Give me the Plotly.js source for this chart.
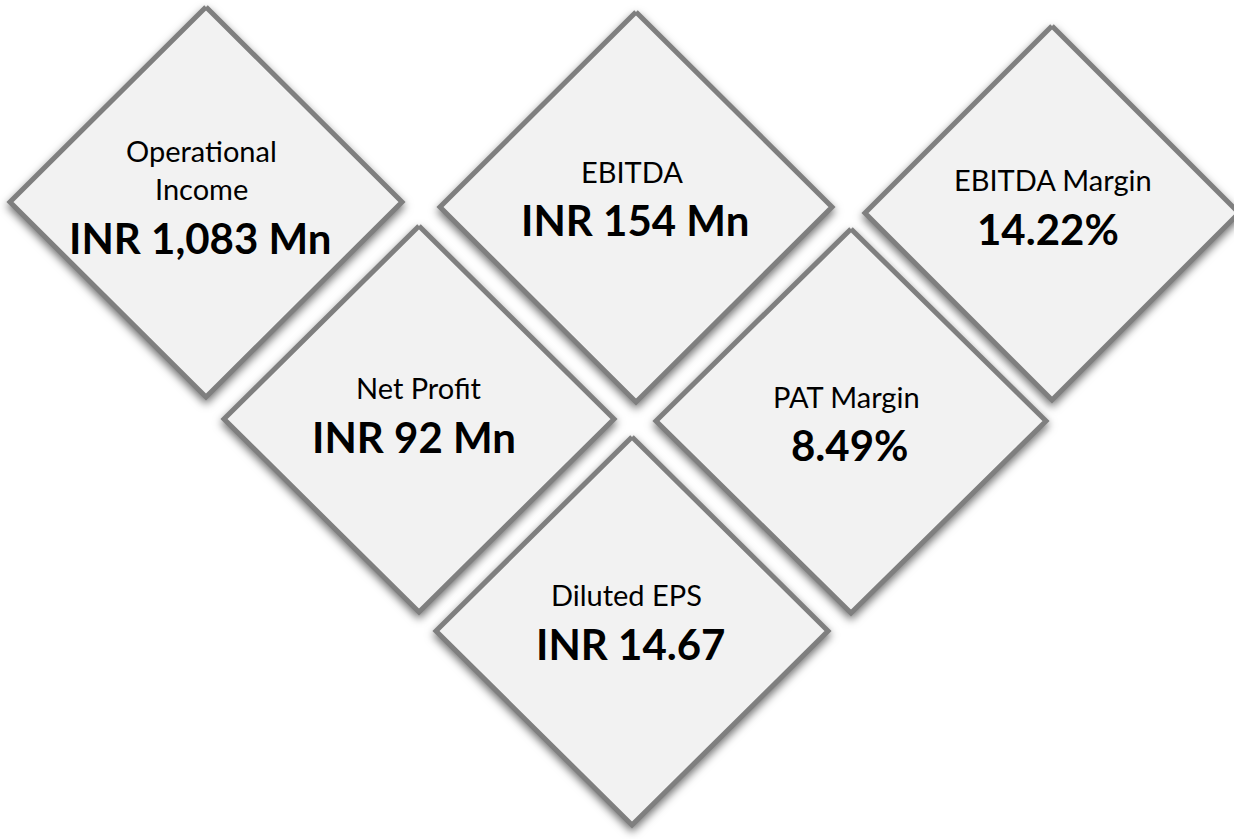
<!DOCTYPE html>
<html>
<head>
<meta charset="utf-8">
<script src="https://cdn.plot.ly/plotly-3.0.1.min.js"></script>
<style>
  html, body { margin: 0; padding: 0; background: #ffffff; }
  #chart { width: 1234px; height: 839px; }
  #chart g.trace.scatter { filter: drop-shadow(0px 4px 4px rgba(0,0,0,0.55)); }
</style>
</head>
<body>
<div id="chart"></div>
<script>
// ---- data ----
const labels = ["Operational|Income", "EBITDA", "EBITDA Margin", "Net Profit", "PAT Margin", "Diluted EPS"];
const values = ["INR 1,083 Mn", "INR 154 Mn", "14.22%", "INR 92 Mn", "8.49%", "INR 14.67"];

// ---- layout geometry (tile placement, pixel space) ----
// [cx, cy, halfW, halfH]
const tiles = [
  [206, 202, 196, 195],
  [636, 207, 196, 195],
  [1052, 213, 187, 187],
  [419, 419, 195, 193],
  [851, 421, 195, 192],
  [632, 631, 196, 194]
];
// [labelX, labelY(first line, cap middle), valueX, valueY]
const textPos = [
  [201, 150.5, 200, 238],
  [632, 171.5, 635, 220],
  [1053, 179.5, 1048, 229],
  [419, 387.5, 414, 437],
  [846, 396.5, 849, 445],
  [626, 594.5, 630, 644]
];
const lineGap = 38;

const FONT = "Lato, 'Open Sans', sans-serif";
const traces = [];
const annotations = [];

tiles.forEach((t, i) => {
  const [cx, cy, hw, hh] = t;
  traces.push({
    type: "scatter",
    mode: "lines",
    x: [cx, cx + hw, cx, cx - hw, cx],
    y: [cy - hh, cy, cy + hh, cy, cy - hh],
    fill: "toself",
    fillcolor: "#f2f2f2",
    line: { color: "#7f7f7f", width: 5 },
    hoverinfo: "skip",
    showlegend: false
  });
  const [lx, ly, vx, vy] = textPos[i];
  labels[i].split("|").forEach((ln, k) => {
    annotations.push({
      x: lx, y: ly + k * lineGap, xref: "x", yref: "y",
      text: ln, showarrow: false, xanchor: "center", yanchor: "middle",
      font: { family: FONT, size: 29, color: "#000000" }
    });
  });
  annotations.push({
    x: vx, y: vy, xref: "x", yref: "y",
    text: "<b>" + values[i] + "</b>", showarrow: false, xanchor: "center", yanchor: "middle",
    font: { family: FONT, size: 42, color: "#000000" }
  });
});

const layout = {
  width: 1234, height: 839, autosize: false,
  margin: { l: 0, r: 0, t: 0, b: 0, pad: 0 },
  paper_bgcolor: "#ffffff", plot_bgcolor: "#ffffff",
  xaxis: { range: [0, 1234], visible: false, fixedrange: true },
  yaxis: { range: [839, 0], visible: false, fixedrange: true },
  annotations: annotations,
  showlegend: false
};

Plotly.newPlot("chart", traces, layout, { displayModeBar: false, staticPlot: true });
</script>
</body>
</html>
